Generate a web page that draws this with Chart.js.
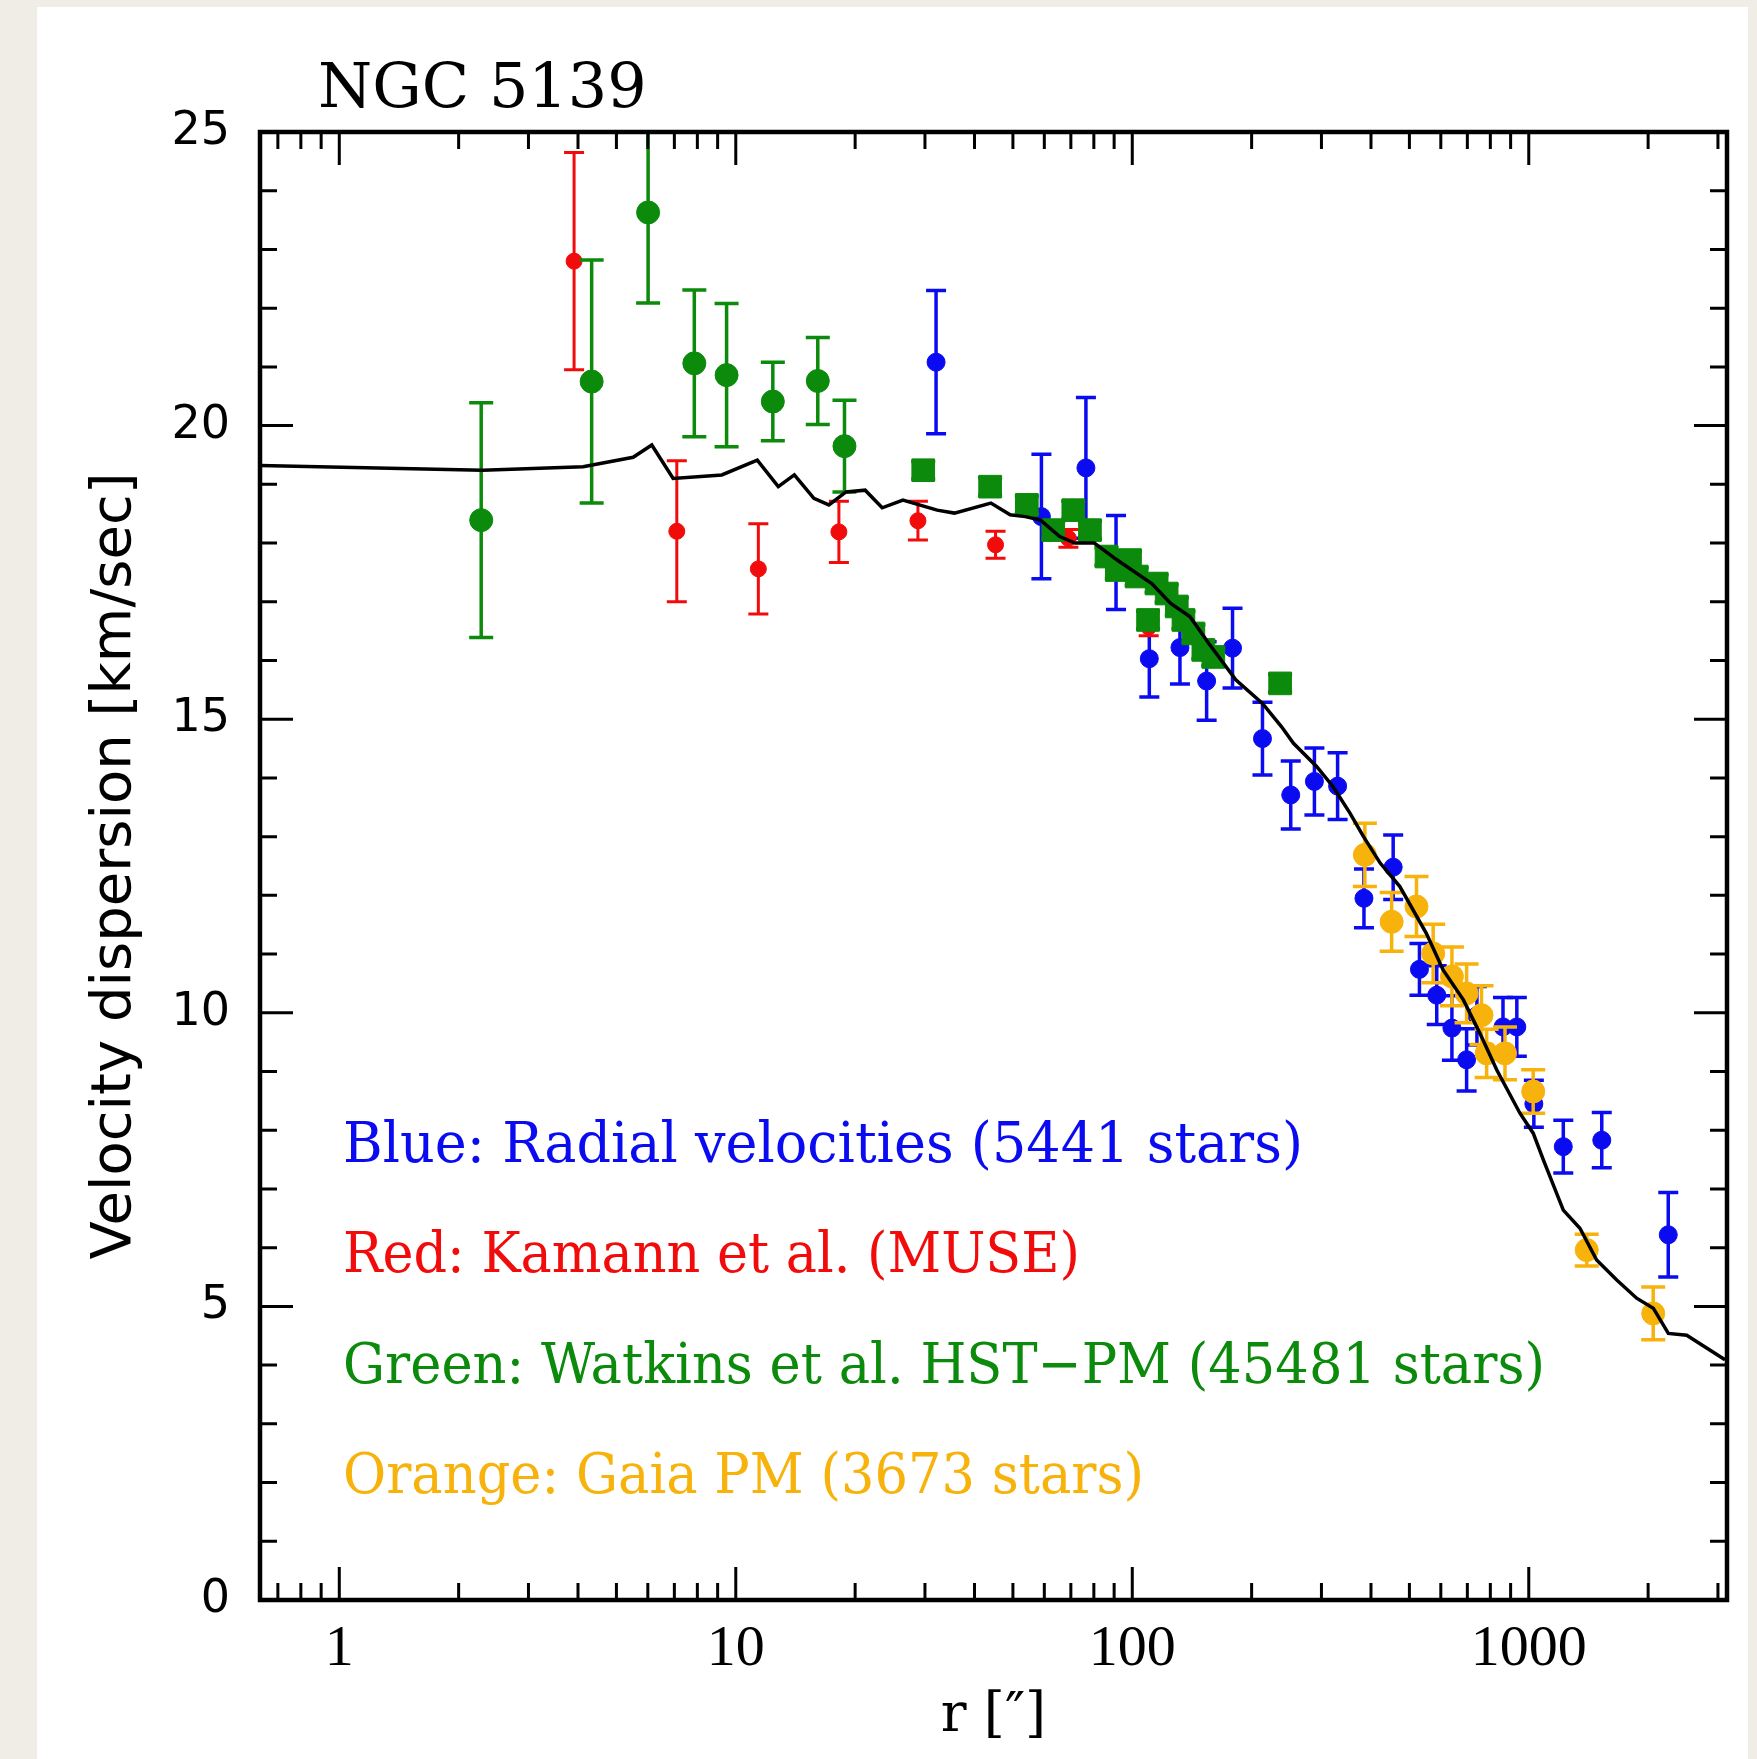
<!DOCTYPE html>
<html><head><meta charset="utf-8">
<script src="https://cdn.jsdelivr.net/npm/chart.js@4/dist/chart.umd.min.js"></script>
<style>
html,body{margin:0;padding:0;background:#f0ede7;width:1757px;height:1759px;overflow:hidden}
#panel{position:absolute;left:37px;top:7px;width:1711px;height:1752px;background:#fff}
#c{position:absolute;left:0;top:0}
</style></head><body>
<div id="panel"></div>
<canvas id="c" width="1757" height="1759"></canvas>
<script>
// ---------- text ----------
const chartTitle = 'NGC 5139';
const xAxisTitle = 'r [\u2033]';
const yAxisTitle = 'Velocity dispersion [km/sec]';
const legendLines = [
  'Blue: Radial velocities (5441 stars)',
  'Red: Kamann et al. (MUSE)',
  'Green: Watkins et al. HST\u2212PM (45481 stars)',
  'Orange: Gaia PM (3673 stars)'
];

// ---------- axes ----------
const xMin = 0.631, xMax = 3162;
const yMin = 0, yMax = 25;
const xMajorTicks = [1, 10, 100, 1000];
const xMinorTicks = [0.7,0.8,0.9,2,3,4,5,6,7,8,9,20,30,40,50,60,70,80,90,200,300,400,500,600,700,800,900,2000,3000];
const yMajorTicks = [0, 5, 10, 15, 20, 25];
const yMinorTicks = [1,2,3,4,6,7,8,9,11,12,13,14,16,17,18,19,21,22,23,24];

// ---------- data ----------
// Blue: radial velocities
const blueR   = [32.0, 59.0, 76.4, 91.0, 110.4, 131.9, 154, 179, 213, 251, 288, 329.5, 384, 455, 530, 586, 640, 697, 740, 861, 933, 1030, 1222, 1528, 2248];
const blueV   = [21.08, 18.45, 19.28, 17.67, 16.03, 16.22, 15.65, 16.21, 14.67, 13.71, 13.94, 13.86, 11.95, 12.48, 10.74, 10.30, 9.74, 9.20, 9.95, 9.76, 9.76, 8.45, 7.72, 7.83, 6.22];
const blueErr = [1.22, 1.06, 1.2, 0.8, 0.65, 0.62, 0.67, 0.68, 0.62, 0.58, 0.57, 0.57, 0.5, 0.55, 0.44, 0.5, 0.55, 0.53, 0.5, 0.5, 0.5, 0.4, 0.45, 0.47, 0.72];

// Red: Kamann et al. (MUSE)
const redR   = [3.91, 7.1, 11.4, 18.2, 28.8, 45.2, 69.0, 110];
const redV   = [22.8, 18.2, 17.56, 18.19, 18.38, 17.97, 18.08, 16.57];
const redErr = [1.85, 1.2, 0.77, 0.52, 0.33, 0.23, 0.15, 0.15];

// Green: HST proper motions (inner, large circles)
const greenCircR   = [2.28, 4.33, 6.01, 7.86, 9.48, 12.4, 16.1, 18.8];
const greenCircV   = [18.39, 20.75, 23.63, 21.06, 20.86, 20.41, 20.76, 19.65];
const greenCircErr = [2.0, 2.07, 1.54, 1.25, 1.22, 0.67, 0.74, 0.78];

// Green: HST proper motions (outer, squares)
const greenSqR   = [29.7, 43.8, 54.2, 63.2, 71.0, 78.2, 86.1, 91.4, 98.7, 102.6, 109.6, 115.2, 122.1, 129.5, 134.6, 142.6, 151.1, 160.1, 236];
const greenSqV   = [19.24, 18.96, 18.65, 18.22, 18.56, 18.22, 17.77, 17.54, 17.71, 17.43, 16.69, 17.31, 17.14, 16.92, 16.69, 16.46, 16.18, 16.06, 15.61];
const greenSqErr = [0.15, 0.15, 0.15, 0.15, 0.15, 0.15, 0.15, 0.15, 0.15, 0.15, 0.15, 0.15, 0.15, 0.15, 0.15, 0.15, 0.15, 0.15, 0.15];

// Orange: Gaia PM
const orangeR   = [386, 451, 521, 574, 640, 697, 760, 783, 871, 1026, 1400, 2060];
const orangeV   = [12.69, 11.55, 11.81, 11.01, 10.62, 10.33, 9.96, 9.31, 9.31, 8.66, 5.96, 4.88];
const orangeErr = [0.54, 0.5, 0.51, 0.5, 0.5, 0.5, 0.5, 0.41, 0.45, 0.37, 0.27, 0.45];

// Model curve
const modelR = [0.631, 2.30, 4.12, 5.51, 6.14, 6.95, 9.22, 11.33, 12.8, 14.05, 15.74, 17.17, 18.97, 21.2, 23.4, 26.4, 32.2, 35.6, 44.0, 49.2, 53.7, 58.7, 65.6, 71.7, 80.2, 91.6, 112, 125, 139.7, 156, 182.4, 213, 238, 255, 292, 321, 354, 383, 422, 473, 552, 608, 684, 753, 830, 950, 1026, 1089, 1222, 1346, 1483, 1667, 1871, 2061, 2249, 2502, 3126];
const modelV = [19.32, 19.24, 19.30, 19.46, 19.67, 19.10, 19.16, 19.41, 18.96, 19.16, 18.76, 18.65, 18.87, 18.90, 18.60, 18.73, 18.56, 18.51, 18.68, 18.48, 18.45, 18.39, 18.11, 18.00, 18.00, 17.71, 17.31, 16.97, 16.75, 16.29, 15.67, 15.27, 14.87, 14.59, 14.19, 13.85, 13.40, 13.00, 12.55, 12.15, 11.35, 10.73, 10.22, 9.65, 9.03, 8.29, 7.95, 7.49, 6.64, 6.33, 5.79, 5.45, 5.14, 4.97, 4.54, 4.51, 4.09];

// ---------- colours ----------
const BLUE = '#0b0bf2', RED = '#f20b0b', GREEN = '#0b8a0b', ORANGE = '#f7b20c';
const legendColors = [BLUE, RED, GREEN, ORANGE];

const pts = (xs, ys) => xs.map((x, i) => ({x: x, y: ys[i]}));

// ---------- plugins ----------
const errorBarPlugin = {
  id: 'errorBars',
  beforeDatasetDraw(chart, args) {
    const ds = chart.data.datasets[args.index];
    if (!ds.errorBars) return;
    const {ctx, chartArea, scales: {x, y}} = chart;
    ctx.save();
    ctx.beginPath();
    ctx.rect(chartArea.left, chartArea.top, chartArea.right - chartArea.left, chartArea.bottom - chartArea.top);
    ctx.clip();
    ctx.strokeStyle = ds.borderColor;
    ctx.lineWidth = ds.errorLineWidth || 3;
    const cap = ds.capHalf || 10;
    ds.data.forEach((p, i) => {
      const e = ds.errorBars[i];
      const px = x.getPixelForValue(p.x);
      const y1 = y.getPixelForValue(p.y + e);
      const y2 = y.getPixelForValue(p.y - e);
      ctx.beginPath();
      ctx.moveTo(px, y1); ctx.lineTo(px, y2);
      ctx.moveTo(px - cap, y1); ctx.lineTo(px + cap, y1);
      ctx.moveTo(px - cap, y2); ctx.lineTo(px + cap, y2);
      ctx.stroke();
    });
    ctx.restore();
  }
};

const framePlugin = {
  id: 'frame',
  afterDatasetsDraw(chart) {
    const {ctx, chartArea: a, scales: {x, y}} = chart;
    ctx.save();
    ctx.strokeStyle = '#000';
    ctx.lineWidth = 3;
    const MAJ = 33, MIN = 17;
    const tick = (list, len) => {
      list.forEach(v => {
        const px = x.getPixelForValue(v);
        ctx.beginPath();
        ctx.moveTo(px, a.bottom); ctx.lineTo(px, a.bottom - len);
        ctx.moveTo(px, a.top); ctx.lineTo(px, a.top + len);
        ctx.stroke();
      });
    };
    const ytick = (list, len) => {
      list.forEach(v => {
        const py = y.getPixelForValue(v);
        ctx.beginPath();
        ctx.moveTo(a.left, py); ctx.lineTo(a.left + len, py);
        ctx.moveTo(a.right, py); ctx.lineTo(a.right - len, py);
        ctx.stroke();
      });
    };
    tick(xMajorTicks, MAJ); tick(xMinorTicks, MIN);
    ytick(yMajorTicks, MAJ); ytick(yMinorTicks, MIN);
    ctx.lineWidth = 4.5;
    ctx.strokeRect(a.left, a.top, a.right - a.left, a.bottom - a.top);
    ctx.restore();
  }
};

const textPlugin = {
  id: 'texts',
  afterDraw(chart) {
    const {ctx, chartArea: a} = chart;
    ctx.save();
    ctx.textBaseline = 'alphabetic';
    ctx.textAlign = 'left';
    ctx.fillStyle = '#000';
    ctx.font = '62px "DejaVu Serif"';
    ctx.fillText(chartTitle, a.left + 58, a.top - 25, 335);
    ctx.font = '56px "DejaVu Serif"';
    const widths = [960, 737, 1202, 801];
    legendLines.forEach((t, i) => {
      ctx.fillStyle = legendColors[i];
      ctx.fillText(t, a.left + 83, a.top + 1030 + i * 110.3, widths[i]);
    });
    ctx.restore();
  }
};

// ---------- chart ----------
new Chart(document.getElementById('c'), {
  type: 'scatter',
  data: {
    datasets: [
      { label: 'Model', data: pts(modelR, modelV), showLine: true, borderColor: '#000', borderWidth: 3.5,
        pointRadius: 0, tension: 0, fill: false, order: 0 },
      { label: 'Orange', data: pts(orangeR, orangeV), errorBars: orangeErr, capHalf: 12, errorLineWidth: 3.5,
        backgroundColor: ORANGE, borderColor: ORANGE, borderWidth: 1, pointRadius: 11.5, pointStyle: 'circle', order: 1 },
      { label: 'GreenSq', data: pts(greenSqR, greenSqV), errorBars: greenSqErr, capHalf: 12, errorLineWidth: 3.5,
        backgroundColor: GREEN, borderColor: GREEN, borderWidth: 1, pointRadius: 16, pointStyle: 'rect', order: 2 },
      { label: 'GreenCirc', data: pts(greenCircR, greenCircV), errorBars: greenCircErr, capHalf: 12, errorLineWidth: 3.5,
        backgroundColor: GREEN, borderColor: GREEN, borderWidth: 1, pointRadius: 11.5, pointStyle: 'circle', order: 2 },
      { label: 'Red', data: pts(redR, redV), errorBars: redErr, capHalf: 10, errorLineWidth: 3,
        backgroundColor: RED, borderColor: RED, borderWidth: 1, pointRadius: 8, pointStyle: 'circle', order: 3 },
      { label: 'Blue', data: pts(blueR, blueV), errorBars: blueErr, capHalf: 10, errorLineWidth: 3.5,
        backgroundColor: BLUE, borderColor: BLUE, borderWidth: 1, pointRadius: 9, pointStyle: 'circle', order: 4 }
    ]
  },
  options: {
    responsive: false,
    animation: false,
    events: [],
    devicePixelRatio: 1,
    layout: { padding: { left: 0, right: 30, top: 132, bottom: 0 } },
    plugins: { legend: { display: false }, tooltip: { enabled: false }, title: { display: false } },
    scales: {
      x: {
        type: 'logarithmic', position: 'bottom', min: xMin, max: xMax, bounds: 'data',
        grid: { display: false, drawTicks: false }, border: { display: false },
        afterBuildTicks: s => { s.ticks = xMajorTicks.map(v => ({ value: v })); },
        afterFit: s => { s.height = 159; },
        ticks: { padding: 15, color: '#000', autoSkip: false, maxRotation: 0,
                 font: { family: 'Liberation Serif', size: 58 }, callback: v => String(v) },
        title: { display: true, text: xAxisTitle, color: '#000',
                 font: { family: 'DejaVu Serif', size: 54 }, padding: { top: 0, bottom: 10 } }
      },
      y: {
        type: 'linear', position: 'left', min: yMin, max: yMax, bounds: 'data',
        grid: { display: false, drawTicks: false }, border: { display: false },
        afterBuildTicks: s => { s.ticks = yMajorTicks.map(v => ({ value: v })); },
        afterFit: s => { s.width = 260; },
        ticks: { padding: 30, color: '#000', font: { family: 'DejaVu Sans', size: 46 }, callback: v => String(v) },
        title: { display: true, text: yAxisTitle, color: '#000',
                 font: { family: 'DejaVu Sans', size: 56 }, padding: { top: 82, bottom: 0 } }
      }
    }
  },
  plugins: [errorBarPlugin, framePlugin, textPlugin]
});
</script>
</body></html>
